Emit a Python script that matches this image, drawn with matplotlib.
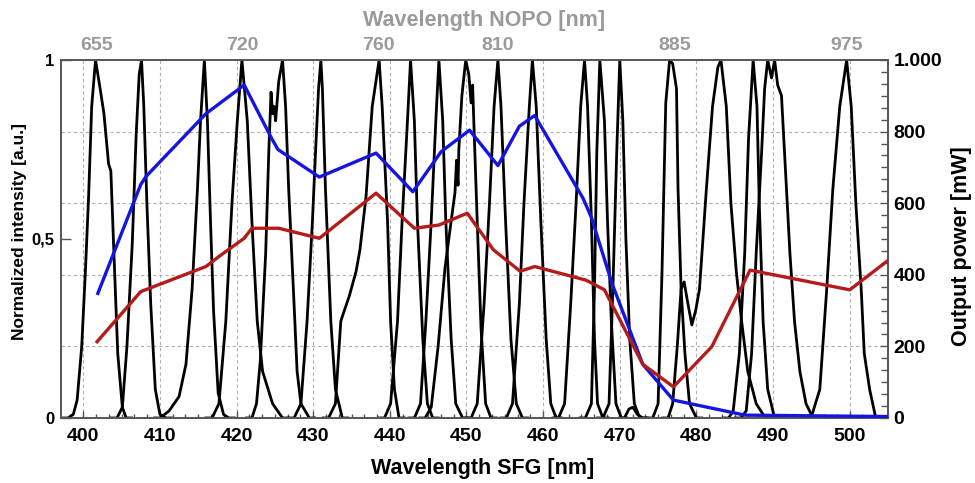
# SFG spectra (normalized) with output power on a second axis
# bottom axis: SFG wavelength, top axis: matching NOPO wavelength

import matplotlib
matplotlib.use("Agg")
import matplotlib.pyplot as plt
from matplotlib.ticker import MultipleLocator, AutoMinorLocator, FixedLocator, FuncFormatter

plt.rcParams["font.family"] = ["Liberation Sans", "DejaVu Sans"]
plt.rcParams["font.weight"] = "bold"

# ---- data ----
# normalized SFG spectra, one list of (wavelength, intensity) per tuning step
spectra = [
    [(397.4, 0), (398.0, 0), (398.7, 0.01), (399.2, 0.05), (399.8, 0.2), (400.3, 0.42), (400.7, 0.62),
     (401.1, 0.87), (401.6, 1.0), (402.2, 0.92), (402.7, 0.85), (403.3, 0.71), (403.6, 0.69),
     (404.0, 0.46), (404.5, 0.18), (405.1, 0.03), (405.6, 0), (406.3, 0)],
    [(403.6, 0), (404.4, 0), (405.1, 0.03), (405.7, 0.2), (406.4, 0.49), (406.9, 0.79), (407.3, 0.96),
     (407.6, 1.0), (407.9, 0.87), (408.3, 0.6), (408.8, 0.32), (409.4, 0.08), (410.0, 0.01),
     (410.8, 0), (411.5, 0)],
    [(409.3, 0), (410.0, 0), (411.2, 0.02), (412.5, 0.06), (413.4, 0.15), (414.2, 0.36), (414.9, 0.64),
     (415.3, 0.83), (415.8, 1.0), (416.2, 0.83), (416.6, 0.55), (417.0, 0.3), (417.6, 0.07),
     (418.3, 0.01), (419.0, 0), (419.7, 0)],
    [(416.0, 0), (416.8, 0), (417.7, 0.04), (418.6, 0.27), (419.4, 0.6), (420.1, 0.83), (420.7, 1.0),
     (421.4, 0.83), (422.0, 0.55), (422.7, 0.27), (423.4, 0.13), (424.7, 0.04), (426.0, 0), (426.7, 0)],
    [(421.3, 0), (422.0, 0), (422.6, 0.04), (423.1, 0.16), (423.8, 0.46), (424.2, 0.74), (424.5, 0.91),
     (424.7, 0.85), (424.9, 0.87), (425.1, 0.83), (425.5, 0.94), (426.0, 1.0), (426.4, 0.87),
     (426.8, 0.64), (427.5, 0.32), (427.9, 0.13), (428.4, 0.04), (429.5, 0), (430.2, 0)],
    [(426.8, 0), (427.5, 0), (428.4, 0.04), (429.2, 0.27), (429.9, 0.55), (430.3, 0.74), (430.7, 0.92),
     (431.0, 1.0), (431.2, 0.92), (431.6, 0.64), (432.3, 0.27), (432.9, 0.08), (433.8, 0), (434.5, 0)],
    [(431.3, 0), (432.0, 0), (432.9, 0.04), (433.6, 0.27), (433.9, 0.29), (434.7, 0.34), (435.6, 0.41),
     (436.1, 0.47), (436.9, 0.62), (437.7, 0.87), (438.6, 1.0), (439.0, 0.87), (439.7, 0.55),
     (440.1, 0.27), (440.6, 0.08), (441.2, 0), (441.9, 0)],
    [(438.6, 0), (439.3, 0), (440.1, 0.04), (441.0, 0.27), (441.6, 0.55), (442.3, 0.83), (442.7, 1.0),
     (443.2, 0.83), (443.6, 0.55), (444.3, 0.22), (444.9, 0.04), (445.6, 0), (446.3, 0)],
    [(442.5, 0), (443.2, 0), (444.0, 0.04), (444.7, 0.27), (445.4, 0.55), (446.0, 0.83), (446.4, 1.0),
     (446.9, 0.83), (447.3, 0.55), (448.0, 0.22), (448.6, 0.04), (449.5, 0), (450.2, 0)],
    [(443.9, 0), (444.6, 0), (445.4, 0.03), (446.3, 0.2), (447.2, 0.42), (448.0, 0.55), (448.5, 0.63),
     (448.7, 0.72), (448.9, 0.65), (449.0, 0.75), (449.4, 0.9), (449.9, 1.0), (450.3, 0.96),
     (450.6, 0.88), (450.8, 0.93), (451.0, 0.8), (451.4, 0.55), (451.9, 0.25), (452.5, 0.04),
     (453.2, 0), (453.9, 0)],
    [(449.9, 0), (450.6, 0), (451.4, 0.04), (452.3, 0.32), (453.0, 0.6), (453.6, 0.87), (454.1, 1.0),
     (454.5, 0.87), (455.1, 0.55), (455.8, 0.22), (456.5, 0.04), (457.3, 0), (458.0, 0)],
    [(454.5, 0), (455.2, 0), (456.0, 0.04), (456.9, 0.32), (457.5, 0.6), (458.2, 0.87), (458.6, 1.0),
     (459.1, 0.87), (459.7, 0.55), (460.4, 0.22), (461.0, 0.04), (461.7, 0), (462.4, 0)],
    [(461.3, 0), (462.0, 0), (462.8, 0.04), (463.6, 0.32), (464.3, 0.6), (464.9, 0.87), (465.4, 1.0),
     (465.8, 0.87), (466.3, 0.55), (466.7, 0.22), (467.1, 0.04), (467.8, 0), (468.5, 0)],
    [(464.8, 0), (465.5, 0), (466.3, 0.04), (466.7, 0.36), (467.0, 0.74), (467.4, 1.0), (468.0, 0.83),
     (468.4, 0.55), (468.9, 0.27), (469.5, 0.04), (470.2, 0), (470.9, 0)],
    [(467.1, 0), (467.8, 0), (468.6, 0.04), (469.1, 0.36), (469.6, 0.74), (470.0, 1.0), (470.4, 0.83),
     (470.8, 0.5), (471.3, 0.22), (471.9, 0.04), (472.6, 0), (473.3, 0)],
    [(470.0, 0), (470.6, 0), (471.2, 0.025), (471.7, 0.03), (472.3, 0.01), (473.0, 0), (473.6, 0)],
    [(473.6, 0), (474.3, 0), (475.0, 0.04), (475.5, 0.4), (476.0, 0.88), (476.5, 1.0), (476.9, 0.99),
     (477.4, 0.92), (477.6, 0.64), (478.0, 0.36), (478.5, 0.18), (479.1, 0.04), (480.0, 0), (480.7, 0)],
    [(475.6, 0), (476.3, 0), (476.9, 0.04), (477.5, 0.2), (478.0, 0.36), (478.4, 0.38), (478.8, 0.33),
     (479.4, 0.26), (479.9, 0.3), (480.4, 0.36), (481.3, 0.64), (482.1, 0.87), (482.8, 0.98),
     (483.2, 1.0), (483.9, 0.87), (484.5, 0.6), (485.2, 0.41), (485.9, 0.27), (486.7, 0.13),
     (487.8, 0.04), (489.0, 0), (489.7, 0)],
    [(483.5, 0), (484.2, 0), (484.8, 0.02), (485.6, 0.18), (486.3, 0.46), (486.8, 0.78), (487.4, 1.0),
     (487.9, 0.87), (488.2, 0.6), (488.7, 0.27), (489.3, 0.08), (490.2, 0), (490.9, 0)],
    [(485.1, 0), (485.8, 0), (486.5, 0.02), (487.2, 0.18), (487.8, 0.46), (488.5, 0.74), (488.9, 0.92),
     (489.3, 1.0), (489.8, 0.95), (490.2, 1.0), (490.6, 0.93), (491.1, 0.9), (491.5, 0.74),
     (492.2, 0.46), (492.8, 0.27), (493.5, 0.13), (494.3, 0.04), (495.2, 0), (495.9, 0)],
    [(493.8, 0), (494.5, 0), (495.1, 0.01), (496.1, 0.08), (497.0, 0.36), (497.8, 0.64), (498.7, 0.87),
     (499.6, 1.0), (500.2, 0.87), (500.8, 0.6), (501.5, 0.36), (501.9, 0.18), (502.6, 0.08),
     (503.4, 0), (504.1, 0)],
]

# output power [mW], blue curve
blue_wl = [401.9, 407.5, 408.2, 416.0, 421.0, 424.6, 425.4, 430.8, 438.2, 443.0, 446.7, 450.4,
           454.1, 456.9, 458.9, 465.2, 466.3, 469.0, 473.0, 477.0, 486.3, 505.0]
blue_mw = [348, 652, 675, 850, 930, 780, 750, 673, 740, 632, 744, 804,
           705, 815, 845, 614, 560, 375, 150, 50, 8, 4]

# output power [mW], red curve
red_wl = [401.8, 407.5, 416.0, 417.7, 421.0, 422.0, 425.5, 430.8, 438.2, 443.2, 446.4, 450.1,
          453.5, 457.0, 458.9, 465.6, 468.0, 473.0, 477.0, 482.0, 487.0, 500.0, 505.0]
red_mw = [213, 353, 423, 451, 502, 530, 530, 502, 628, 530, 539, 572,
          470, 410, 423, 385, 358, 150, 87, 199, 413, 358, 440]

# top axis: NOPO wavelength labels at the matching SFG wavelength
nopo_labels = ["655", "720", "760", "810", "885", "975"]
nopo_at_sfg = [401.7, 420.7, 438.5, 454.1, 477.2, 499.6]

power_ticks = [0, 200, 400, 600, 800, 1000]


def power_label(v, pos):
    # german style thousands separator
    if v >= 1000:
        return "{:,.0f}".format(v).replace(",", ".")
    return "{:.0f}".format(v)


# ---- plot ----
fig = plt.figure(figsize=(9.75, 4.83), dpi=100)
ax = fig.add_axes([0.0626, 0.1346, 0.8482, 0.7412])

frame_col = "#555555"
grid_col = "#b0b0b0"
top_col = "#9a9a9a"

for peak in spectra:
    xs = [p[0] for p in peak]
    ys = [p[1] for p in peak]
    ax.plot(xs, ys, color="black", linewidth=2.0, solid_joinstyle="round", zorder=2)

ax.set_xlim(397.1, 505)
ax.set_ylim(0, 1)
ax.xaxis.set_major_locator(MultipleLocator(10))
ax.xaxis.set_minor_locator(AutoMinorLocator(6))
ax.yaxis.set_major_locator(FixedLocator([0, 0.5, 1]))
ax.yaxis.set_minor_locator(FixedLocator([0.2, 0.4, 0.6, 0.8]))
ax.yaxis.set_major_formatter(FuncFormatter(lambda v, p: "{:g}".format(v).replace(".", ",")))
ax.grid(True, which="major", axis="x", linestyle=(0, (3, 2.5)), color=grid_col, linewidth=0.8)
ax.grid(True, which="minor", axis="y", linestyle=(0, (3, 2.5)), color=grid_col, linewidth=0.8)
ax.set_axisbelow(True)

ax.tick_params(axis="x", which="major", direction="in", length=5, width=1, color=frame_col,
               labelsize=14, pad=7)
ax.tick_params(axis="x", which="minor", direction="in", length=3, width=1, color=frame_col)
ax.tick_params(axis="y", which="major", direction="in", length=7, width=1, color=frame_col,
               labelsize=12, pad=5)
ax.tick_params(axis="y", which="minor", length=0)
for s in ax.spines.values():
    s.set_color(frame_col)
    s.set_linewidth(1.2)

ax.set_xlabel("Wavelength SFG [nm]", fontsize=15.5, fontweight="bold")
ax.xaxis.set_label_coords(0.51, -0.112)
ax.set_ylabel("Normalized intensity [a.u.]", fontsize=12.5, fontweight="bold")
ax.yaxis.set_label_coords(-0.041, 0.52)

# power axis on the right
ax2 = ax.twinx()
ax2.plot(blue_wl, blue_mw, color="#1515e0", linewidth=2.4, zorder=3)
ax2.plot(red_wl, red_mw, color="#b41c1c", linewidth=2.4, zorder=3)
ax2.set_ylim(0, 1000)
ax2.yaxis.set_major_locator(FixedLocator(power_ticks))
ax2.yaxis.set_minor_locator(AutoMinorLocator(6))
ax2.yaxis.set_major_formatter(FuncFormatter(power_label))
ax2.tick_params(axis="y", which="major", direction="in", length=6, width=1, color=frame_col,
                labelsize=14, pad=4)
ax2.tick_params(axis="y", which="minor", direction="in", length=5, width=1, color=frame_col)
for s in ax2.spines.values():
    s.set_color(frame_col)
    s.set_linewidth(1.2)
ax2.set_ylabel("Output power [mW]", fontsize=15.5, fontweight="bold")
ax2.yaxis.set_label_coords(1.076, 0.48)

# NOPO wavelength on top
ax3 = ax.twiny()
ax3.set_xlim(ax.get_xlim())
ax3.xaxis.set_major_locator(FixedLocator(nopo_at_sfg))
ax3.set_xticklabels(nopo_labels)
ax3.tick_params(axis="x", which="major", length=0, labelsize=14, labelcolor=top_col, pad=4)
ax3.set_xlabel("Wavelength NOPO [nm]", fontsize=15.5, fontweight="bold", color=top_col)
ax3.xaxis.set_label_coords(0.511, 1.095)
for s in ax3.spines.values():
    s.set_visible(False)

fig.savefig("out.png", dpi=100)
